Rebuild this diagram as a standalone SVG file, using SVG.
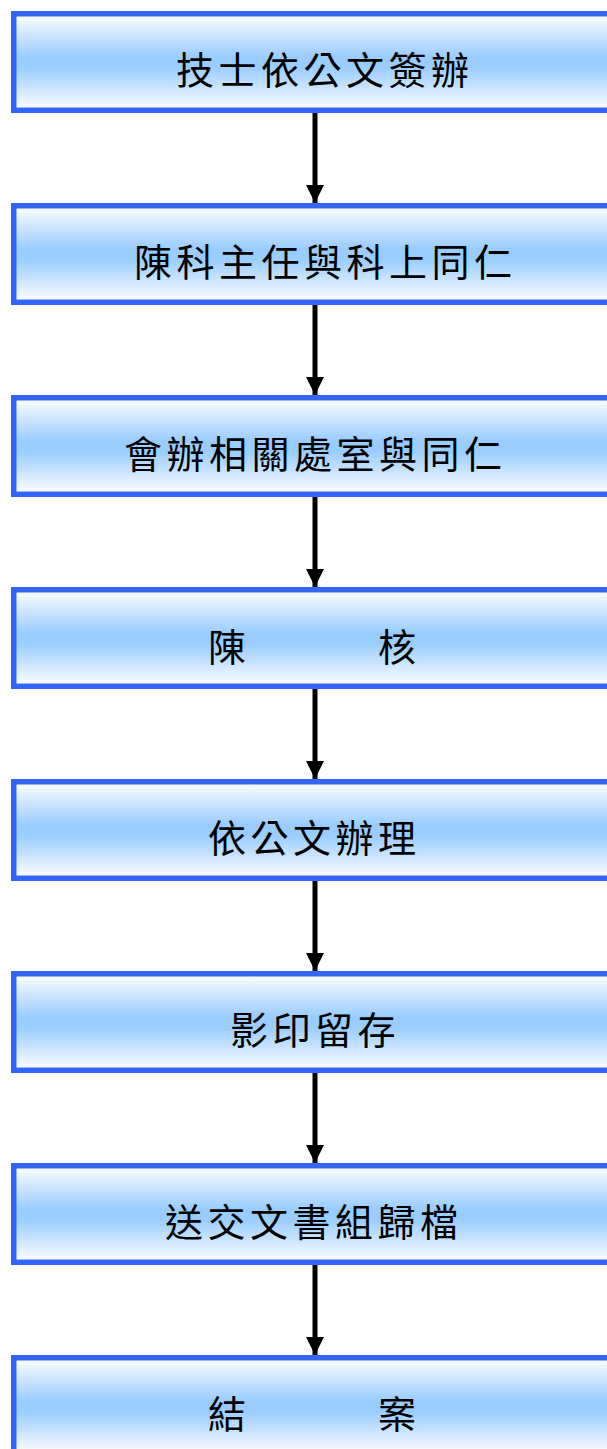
<svg xmlns="http://www.w3.org/2000/svg" width="607" height="1449" viewBox="0 0 607 1449">
<defs>
<linearGradient id="g" x1="0" y1="0" x2="0" y2="1">
<stop offset="0" stop-color="#ffffff"/>
<stop offset="0.45" stop-color="#99CCFF"/>
<stop offset="0.55" stop-color="#99CCFF"/>
<stop offset="1" stop-color="#ffffff"/>
</linearGradient>
<marker id="ah" markerUnits="userSpaceOnUse" markerWidth="20" markerHeight="18" refX="18" refY="9" orient="auto">
<path d="M0,0 L18,9 L0,18 Z" fill="#000"/>
</marker>
</defs>
<style>
.box{fill:url(#g);stroke:#3366FF;stroke-width:5.5}
.t{font-family:"Noto Sans CJK TC","Noto Sans CJK SC",sans-serif;font-size:38px;letter-spacing:4.5px;fill:#000;dominant-baseline:central}
.c{stroke:#000;stroke-width:5;fill:none;marker-end:url(#ah)}
</style>
<g id="connectors">
<line class="c" x1="315" y1="113" x2="315" y2="203"/>
<line class="c" x1="315" y1="305" x2="315" y2="395"/>
<line class="c" x1="315" y1="497" x2="315" y2="587"/>
<line class="c" x1="315" y1="689" x2="315" y2="779"/>
<line class="c" x1="315" y1="881" x2="315" y2="971"/>
<line class="c" x1="315" y1="1073" x2="315" y2="1163"/>
<line class="c" x1="315" y1="1265" x2="315" y2="1355"/>
</g>
<g id="n1"><rect class="box" x="13.75" y="13.75" width="610" height="96.5"/><text class="t" x="176" y="67">技士依公文簽辦</text></g>
<g id="n2"><rect class="box" x="13.75" y="205.75" width="610" height="96.5"/><text class="t" x="134" y="259">陳科主任與科上同仁</text></g>
<g id="n3"><rect class="box" x="13.75" y="397.75" width="610" height="96.5"/><text class="t" x="124" y="451">會辦相關處室與同仁</text></g>
<g id="n4"><rect class="box" x="13.75" y="589.75" width="610" height="96.5"/><text class="t" x="208" y="644">陳　　　核</text></g>
<g id="n5"><rect class="box" x="13.75" y="781.75" width="610" height="96.5"/><text class="t" x="208" y="835">依公文辦理</text></g>
<g id="n6"><rect class="box" x="13.75" y="973.75" width="610" height="96.5"/><text class="t" x="230" y="1027">影印留存</text></g>
<g id="n7"><rect class="box" x="13.75" y="1165.75" width="610" height="96.5"/><text class="t" x="165" y="1219">送交文書組歸檔</text></g>
<g id="n8"><rect class="box" x="13.75" y="1357.75" width="610" height="96.5"/><text class="t" x="208" y="1411">結　　　案</text></g>
</svg>
